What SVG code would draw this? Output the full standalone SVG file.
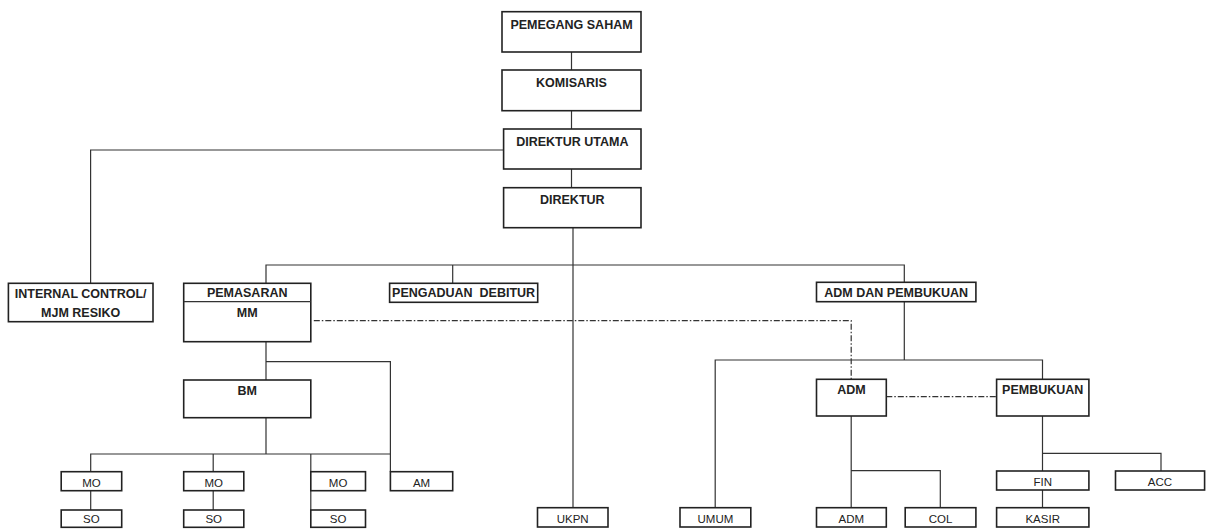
<svg xmlns="http://www.w3.org/2000/svg" width="1206" height="530" viewBox="0 0 1206 530">
<style>
.box{fill:#fff;stroke:#222;stroke-width:1.6}
.ln{fill:none;stroke:#333;stroke-width:1.2}
.dd{fill:none;stroke:#333;stroke-width:1.2;stroke-dasharray:6,2,1.5,2}
.t{font-family:"Liberation Sans",Arial,sans-serif;font-size:12.5px;font-weight:bold;fill:#222;text-anchor:middle}
.s{font-family:"Liberation Sans",Arial,sans-serif;font-size:11.5px;fill:#222;text-anchor:middle}
</style>
<rect width="1206" height="530" fill="#fff"/>
<g id="connectors">
<path class="ln" d="M571.5 52V70M571.5 110.7V129M571.5 169V187.7"/>
<path class="ln" d="M503.6 150H90.6V283.3"/>
<path class="ln" d="M573 227.7V507.7"/>
<path class="ln" d="M266 283.3V265H904.3V282.3M452.7 265V283.3"/>
<path class="ln" d="M266 341.7V380M266 361.7H390.4V471.7"/>
<path class="ln" d="M266 417.7V454M90.7 471.7V454H390.4M213.2 454V471.7M310.8 454V471.7"/>
<path class="ln" d="M90.7 490.7V510M213.2 490.7V510M310.8 490.7V510"/>
<path class="ln" d="M904.3 301.7V360M715.2 507.7V360H1042.5V379.3"/>
<path class="ln" d="M851.2 416V507.7M851.2 470.7H940.3V507.7"/>
<path class="ln" d="M1042.5 416V471M1042.5 453.3H1161V471M1042.5 490V507.7"/>
<path class="dd" d="M313.8 320.7H851.2V379.3"/>
<path class="dd" d="M886.3 396.7H996.6"/>
</g>
<g id="pemegang-saham"><rect class="box" x="502" y="11.7" width="139" height="40.3"/><text class="t" x="571.5" y="28.5">PEMEGANG SAHAM</text></g>
<g id="komisaris"><rect class="box" x="502" y="70" width="139" height="40.7"/><text class="t" x="571.5" y="87">KOMISARIS</text></g>
<g id="direktur-utama"><rect class="box" x="503.6" y="129" width="137.4" height="40"/><text class="t" x="572.3" y="146">DIREKTUR UTAMA</text></g>
<g id="direktur"><rect class="box" x="503.6" y="187.7" width="137.4" height="40"/><text class="t" x="572.3" y="204">DIREKTUR</text></g>
<g id="internal-control"><rect class="box" x="8.4" y="283.3" width="144.6" height="38.4"/><text class="t" x="80.7" y="298.3">INTERNAL CONTROL/</text><text class="t" x="80.7" y="316.7">MJM RESIKO</text></g>
<g id="pemasaran"><rect class="box" x="183.7" y="283.3" width="127.1" height="58.4"/><line class="ln" x1="183.7" y1="301.7" x2="310.8" y2="301.7"/><text class="t" x="247.2" y="297.3">PEMASARAN</text><text class="t" x="247.2" y="316.7">MM</text></g>
<g id="pengaduan-debitur"><rect class="box" x="389.6" y="283.3" width="148.1" height="19"/><text class="t" x="463.6" y="297.3">PENGADUAN&#160; DEBITUR</text></g>
<g id="adm-dan-pembukuan"><rect class="box" x="816.5" y="282.3" width="159.4" height="19.4"/><text class="t" x="896.2" y="297.3">ADM DAN PEMBUKUAN</text></g>
<g id="bm"><rect class="box" x="183.7" y="380" width="127.1" height="37.7"/><text class="t" x="247.2" y="395">BM</text></g>
<g id="adm"><rect class="box" x="816.5" y="379.3" width="69.8" height="36.7"/><text class="t" x="851.4" y="394">ADM</text></g>
<g id="pembukuan"><rect class="box" x="996.6" y="379.3" width="92.3" height="36.7"/><text class="t" x="1042.7" y="394">PEMBUKUAN</text></g>
<g id="mo1"><rect class="box" x="61.2" y="471.7" width="60.5" height="19"/><text class="s" x="91.4" y="486.5">MO</text></g>
<g id="mo2"><rect class="box" x="183.7" y="471.7" width="60.1" height="19"/><text class="s" x="213.7" y="486.5">MO</text></g>
<g id="mo3"><rect class="box" x="310.8" y="471.7" width="54.7" height="19"/><text class="s" x="338.1" y="486.5">MO</text></g>
<g id="am"><rect class="box" x="390.4" y="471.7" width="62.3" height="19"/><text class="s" x="421.5" y="486.5">AM</text></g>
<g id="so1"><rect class="box" x="61.2" y="510" width="60.5" height="17.3"/><text class="s" x="91.4" y="523">SO</text></g>
<g id="so2"><rect class="box" x="183.7" y="510" width="60.1" height="17.3"/><text class="s" x="213.7" y="523">SO</text></g>
<g id="so3"><rect class="box" x="310.8" y="510" width="54.7" height="17.3"/><text class="s" x="338.1" y="523">SO</text></g>
<g id="ukpn"><rect class="box" x="537.5" y="507.7" width="70.5" height="19.3"/><text class="s" x="572.7" y="522.5">UKPN</text></g>
<g id="umum"><rect class="box" x="680" y="507.7" width="70.8" height="19.3"/><text class="s" x="715.4" y="522.5">UMUM</text></g>
<g id="adm-staff"><rect class="box" x="816.5" y="507.7" width="69.8" height="19.3"/><text class="s" x="851.4" y="522.5">ADM</text></g>
<g id="col"><rect class="box" x="905.2" y="507.7" width="70.7" height="19.3"/><text class="s" x="940.5" y="522.5">COL</text></g>
<g id="fin"><rect class="box" x="996.6" y="471" width="92.3" height="19"/><text class="s" x="1042.7" y="486">FIN</text></g>
<g id="acc"><rect class="box" x="1115.5" y="471" width="89.1" height="19"/><text class="s" x="1160" y="486">ACC</text></g>
<g id="kasir"><rect class="box" x="996.6" y="507.7" width="92.3" height="19.3"/><text class="s" x="1042.7" y="522.5">KASIR</text></g>
</svg>
